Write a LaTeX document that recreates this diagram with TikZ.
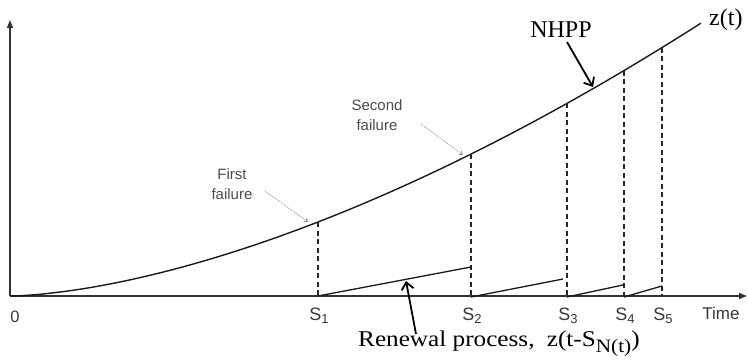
\documentclass[tikz,border=0pt]{standalone}
\usepackage{fontspec}
\setmainfont{Liberation Serif}
\setsansfont{Liberation Sans}
\usetikzlibrary{arrows.meta}
\begin{document}
\begin{tikzpicture}[x=1pt,y=-1pt,
  axis/.style={line width=1.2pt, draw=black!80, -{Triangle[length=8pt,width=6pt]}},
  zcurve/.style={line width=1.4pt, draw=black!90},
  drop/.style={line width=1.2pt, draw=black!85, dash pattern=on 5pt off 3.5pt},
  renew/.style={line width=1.3pt, draw=black!90},
  slbl/.style={font=\sffamily\fontsize{18}{18}\selectfont, text=black!78, anchor=base, inner sep=0pt},
  fail/.style={font=\sffamily\fontsize{15}{20}\selectfont, text=black!70, align=center, inner sep=0pt},
  leader/.style={densely dotted, draw=black!45, line width=0.8pt, -{Straight Barb[length=3pt,width=4pt]}},
  callout/.style={line width=1.8pt, draw=black, -{Straight Barb[length=7pt,width=12pt,line width=1.8pt]}},
  serif/.style={font=\fontsize{24}{24}\selectfont, inner sep=0pt, anchor=base}]
\useasboundingbox (0,0) rectangle (748,364);
% axes
\coordinate (O) at (10,296);
\coordinate (ytip) at (10,20);
\coordinate (xtip) at (747,296);
\draw[axis] (O) -- (ytip);
\draw[axis] (O) -- (xtip);
% NHPP curve
\draw[zcurve] (O) -- plot[domain=1:691, samples=120] ({\x+10},{296-74*(\x/308)^1.615}) coordinate (zend);
% failure points on the curve and feet on the axis
\coordinate (t1) at (318,222); \coordinate (f1) at (318,296);
\coordinate (t2) at (471,154); \coordinate (f2) at (471,296);
\coordinate (t3) at (567,103); \coordinate (f3) at (567,296);
\coordinate (t4) at (624,70.5); \coordinate (f4) at (624,296);
\coordinate (t5) at (662,47.6); \coordinate (f5) at (662,296);
\foreach \i in {1,...,5} {\draw[drop] (t\i) -- (f\i);}
% renewal process segments
\coordinate (r1) at (471,267);
\coordinate (r2) at (563,279);
\coordinate (r3) at (623,285);
\coordinate (r4) at (662,286);
\draw[renew] (f1) -- (r1);
\draw[renew] ([yshift=-1pt]f2) -- (r2);
\draw[renew] ([yshift=-1pt]f3) -- (r3);
\draw[renew] ([yshift=-1pt]f4) -- (r4);
% axis labels
\node[slbl, font=\sffamily\fontsize{16.5}{16.5}\selectfont] (l0) at (15,322) {0};
\node[slbl] (l1) at (319,320) {S\raisebox{-3pt}{\fontsize{13}{13}\selectfont 1}};
\node[slbl] (l2) at (472,320) {S\raisebox{-3pt}{\fontsize{13}{13}\selectfont 2}};
\node[slbl] (l3) at (568,320) {S\raisebox{-3pt}{\fontsize{13}{13}\selectfont 3}};
\node[slbl] (l4) at (625,320) {S\raisebox{-3pt}{\fontsize{13}{13}\selectfont 4}};
\node[slbl] (l5) at (663,320) {S\raisebox{-3pt}{\fontsize{13}{13}\selectfont 5}};
\node[slbl, font=\sffamily\fontsize{17}{17}\selectfont] (time) at (721,319) {Time};
% failure labels
\node[fail] (first) at (232,184) {First\\failure};
\node[fail] (second) at (377,115) {Second\\failure};
\coordinate (p1) at (308,222);
\coordinate (p2) at (463,155);
\draw[leader] (265,191) -- (p1);
\draw[leader] (421,124) -- (p2);
% NHPP label
\node[serif] (nhpp) at (561,37) {NHPP};
\node[serif, anchor=base west] (zt) at (709,25) {z(t)};
\coordinate (nh) at (593,87);
\draw[callout] (567,42) -- (nh);
% renewal label
\node[serif, anchor=base west, font=\fontsize{22.5}{24}\selectfont] (ren) at (358,346)
  {\scalebox{1.12}[1]{Renewal process,\hspace{11pt}z(t-S\raisebox{-6pt}{\fontsize{19}{19}\selectfont N(t)})}};
\coordinate (ra) at (406,281);
\draw[callout] (416,334) -- (ra);
\end{tikzpicture}
\end{document}
